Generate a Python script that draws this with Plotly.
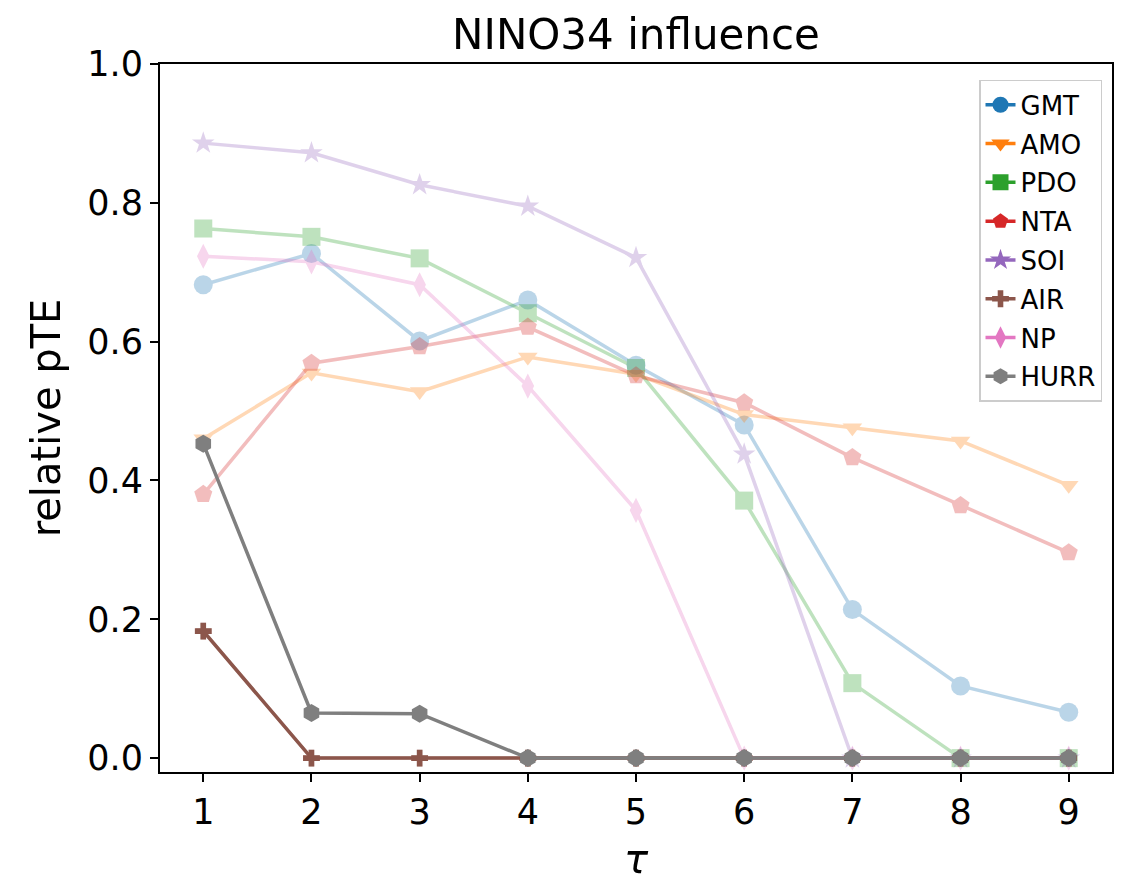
import plotly.graph_objects as go

tau = [1, 2, 3, 4, 5, 6, 7, 8, 9]
names = ["GMT", "AMO", "PDO", "NTA", "SOI", "AIR", "NP", "HURR"]
gmt = [0.682, 0.727, 0.601, 0.660, 0.566, 0.480, 0.214, 0.104, 0.066]
amo = [0.460, 0.555, 0.528, 0.578, 0.553, 0.495, 0.476, 0.457, 0.393]
pdo = [0.763, 0.751, 0.720, 0.641, 0.562, 0.371, 0.108, 0.0, 0.0]
nta = [0.380, 0.569, 0.593, 0.621, 0.551, 0.512, 0.433, 0.364, 0.296]
soi = [0.886, 0.872, 0.826, 0.795, 0.721, 0.438, 0.0, 0.0, 0.0]
air = [0.183, 0.0, 0.0, 0.0, 0.0, 0.0, 0.0, 0.0, 0.0]
np_ = [0.723, 0.715, 0.682, 0.536, 0.357, 0.0, 0.0, 0.0, 0.0]
hurr = [0.453, 0.065, 0.064, 0.0, 0.0, 0.0, 0.0, 0.0, 0.0]
series = [gmt, amo, pdo, nta, soi, air, np_, hurr]

colors = ["#1f77b4", "#ff7f0e", "#2ca02c", "#d62728", "#9467bd", "#8c564b", "#e377c2", "#7f7f7f"]
symbols = ["circle", "triangle-down", "square", "pentagon", "star", "cross", "diamond-tall", "hexagon"]
sizes = [19, 17, 18, 19, 17, 14, 18, 18]
alphas = [0.3, 0.3, 0.3, 0.3, 0.3, 1.0, 0.3, 1.0]

fig = go.Figure()
for name, ys, c, s, sz, a in zip(names, series, colors, symbols, sizes, alphas):
    fig.add_trace(go.Scatter(
        x=tau, y=ys, mode="lines+markers", name=name, showlegend=False,
        opacity=a, line=dict(color=c, width=3.5),
        marker=dict(symbol=s, size=sz, color=c, line=dict(width=0)),
        cliponaxis=False,
    ))
for name, c, s, sz in zip(names, colors, symbols, sizes):
    fig.add_trace(go.Scatter(
        x=[None], y=[None], mode="lines+markers", name=name, showlegend=True,
        legendgroup=name,
        line=dict(color=c, width=3.5),
        marker=dict(symbol=s, size=sz, color=c, line=dict(width=0)),
    ))

font_family = "DejaVu Sans"
fig.update_layout(
    width=1128, height=886,
    margin=dict(l=160, r=16, t=64, b=109),
    paper_bgcolor="white", plot_bgcolor="white",
    font=dict(family=font_family, color="black", size=35),
    title=dict(text="NINO34 influence", x=0.5, xref="paper", xanchor="center",
               y=1 - 34 / 886, yref="container", yanchor="middle",
               font=dict(size=42, family=font_family, color="black")),
    legend=dict(x=0.9895, y=0.9776, xanchor="right", yanchor="top",
                bgcolor="white", bordercolor="#cccccc", borderwidth=1.5,
                font=dict(size=26, family=font_family, color="black"),
                itemsizing="trace", tracegroupgap=2),
)
fig.update_xaxes(
    range=[0.6, 9.4], tickmode="array", tickvals=tau, ticktext=[str(t) for t in tau],
    showgrid=False, zeroline=False, showline=True, mirror=True, linecolor="black", linewidth=2,
    ticks="outside", ticklen=8, tickwidth=2, tickcolor="black",
    tickfont=dict(size=35, family=font_family),
    title=dict(text="<i>τ</i>", font=dict(size=40, family=font_family), standoff=14),
)
fig.update_yaxes(
    range=[-0.02, 1.0], tickmode="array", tickvals=[0, 0.2, 0.4, 0.6, 0.8, 1.0],
    ticktext=["0.0", "0.2", "0.4", "0.6", "0.8", "1.0"],
    showgrid=False, zeroline=False, showline=True, mirror=True, linecolor="black", linewidth=2,
    ticks="outside", ticklen=8, tickwidth=2, tickcolor="black",
    tickfont=dict(size=35, family=font_family),
    title=dict(text="relative pTE", font=dict(size=40, family=font_family), standoff=14),
)
fig.write_html("out.html")
